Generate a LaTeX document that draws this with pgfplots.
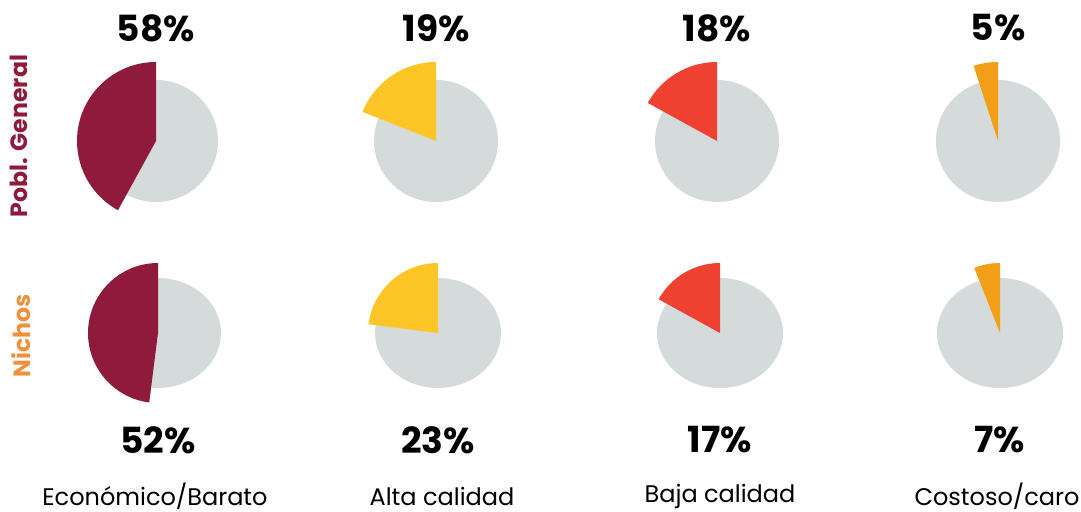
\documentclass[border=0pt]{standalone}
\usepackage{pgfplots}
\pgfplotsset{compat=1.18}
\usepackage{fontspec}
\setmainfont{Poppins}
\definecolor{cmar}{HTML}{8F1A3C}
\definecolor{cyel}{HTML}{FDC526}
\definecolor{cred}{HTML}{EE4132}
\definecolor{cora}{HTML}{F29F17}
\definecolor{cgry}{HTML}{D5DBDB}
\definecolor{clabO}{HTML}{F0903A}
\tikzset{pct/.style={font=\fontsize{18}{20}\selectfont\bfseries},
         cat/.style={font=\fontsize{12}{14}\selectfont}}
\begin{document}
\begin{tikzpicture}
\begin{axis}[
  scale only axis, width=540.5pt, height=255.5pt,
  xmin=0, xmax=1081, ymin=0, ymax=511,
  hide axis, clip=false]
% grey discs: centre x, centre y, x radius, y radius
% top row (Pobl. General)
\fill[cgry] (axis cs:156,370) ellipse [x radius=62, y radius=61];
\fill[cgry] (axis cs:436,370) ellipse [x radius=62, y radius=61];
\fill[cgry] (axis cs:717,370) ellipse [x radius=62, y radius=61];
\fill[cgry] (axis cs:998,370) ellipse [x radius=62, y radius=61];
% bottom row (Nichos)
\fill[cgry] (axis cs:158,178) ellipse [x radius=63, y radius=55];
\fill[cgry] (axis cs:438,178) ellipse [x radius=63, y radius=55];
\fill[cgry] (axis cs:720,178) ellipse [x radius=63, y radius=55];
\fill[cgry] (axis cs:1000,178) ellipse [x radius=63, y radius=55];
% coloured slices (share of circle as drawn, percent)
\fill[cmar] (axis cs:156,370) -- (axis cs:156,449) arc [start angle=90, delta angle=3.6*42, radius=79] -- cycle;
\fill[cyel] (axis cs:436,370) -- (axis cs:436,449) arc [start angle=90, delta angle=3.6*19, radius=79] -- cycle;
\fill[cred] (axis cs:717,370) -- (axis cs:717,449) arc [start angle=90, delta angle=3.6*17, radius=79] -- cycle;
\fill[cora] (axis cs:998,370) -- (axis cs:998,449) arc [start angle=90, delta angle=3.6*5, radius=79] -- cycle;
\fill[cmar] (axis cs:158,178) -- (axis cs:158,248) arc [start angle=90, delta angle=3.6*48, radius=70] -- cycle;
\fill[cyel] (axis cs:438,178) -- (axis cs:438,248) arc [start angle=90, delta angle=3.6*23, radius=70] -- cycle;
\fill[cred] (axis cs:720,178) -- (axis cs:720,248) arc [start angle=90, delta angle=3.6*17, radius=70] -- cycle;
\fill[cora] (axis cs:1000,178) -- (axis cs:1000,248) arc [start angle=90, delta angle=3.6*6, radius=70] -- cycle;
% percentages
\node[pct] at (axis cs:156,483) {58\%};
\node[pct] at (axis cs:436,483) {19\%};
\node[pct] at (axis cs:717,483) {18\%};
\node[pct] at (axis cs:998,483) {5\%};
\node[pct] at (axis cs:158,71) {52\%};
\node[pct] at (axis cs:438,71) {23\%};
\node[pct] at (axis cs:720,71) {17\%};
\node[pct] at (axis cs:1000,71) {7\%};
% category labels
\node[cat] at (axis cs:155,15) {Económico/Barato};
\node[cat] at (axis cs:442,15) {Alta calidad};
\node[cat] at (axis cs:720,15) {Baja calidad};
\node[cat] at (axis cs:997,15) {Costoso/caro};
% row labels
\node[rotate=90, text=cmar, font=\fontsize{11.8}{13}\selectfont\bfseries] at (axis cs:19,375) {Pobl. General};
\node[rotate=90, text=clabO, font=\fontsize{11.8}{13}\selectfont\bfseries] at (axis cs:21,175) {Nichos};
\end{axis}
\pgfresetboundingbox
\path (0,0) rectangle (540.5pt,255.5pt);
\end{tikzpicture}
\end{document}
